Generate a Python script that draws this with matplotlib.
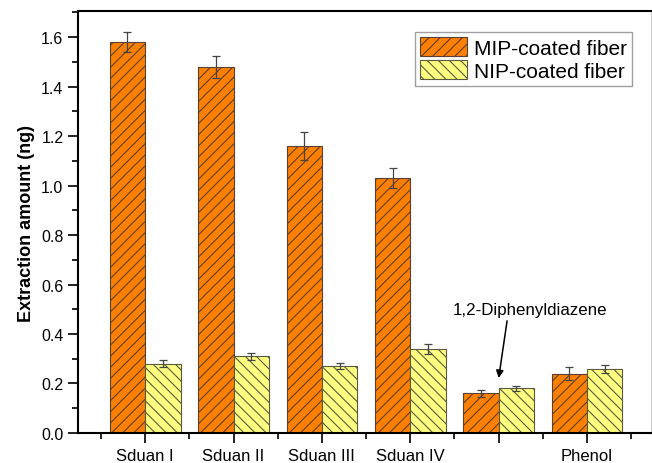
import numpy as np
import matplotlib.pyplot as plt
import matplotlib as mpl
from matplotlib.ticker import MultipleLocator, FixedLocator

mpl.rcParams['font.family'] = ['Liberation Sans', 'DejaVu Sans']
mpl.rcParams['hatch.linewidth'] = 0.8

# Data
categories = ["Sduan I", "Sduan II", "Sduan III", "Sduan IV", "", "Phenol"]
mip_vals = [1.58, 1.48, 1.16, 1.03, 0.16, 0.24]
mip_err = [0.040, 0.045, 0.057, 0.040, 0.015, 0.025]
nip_vals = [0.28, 0.31, 0.27, 0.34, 0.18, 0.26]
nip_err = [0.015, 0.015, 0.012, 0.020, 0.010, 0.016]

x = np.arange(len(categories))
w = 0.4

fig = plt.figure(figsize=(6.52, 4.64), dpi=100)
ax = fig.add_axes([0.1196, 0.0647, 0.8784, 0.9093])

ax.bar(x - w / 2, mip_vals, w, color="#FF8000", edgecolor="#5a4030",
       linewidth=0.8, hatch="///", label="MIP-coated fiber", zorder=2)
ax.bar(x + w / 2, nip_vals, w, color="#FFFF80", edgecolor="#5a5a40",
       linewidth=0.8, hatch="\\\\\\", label="NIP-coated fiber", zorder=2)
ax.errorbar(x - w / 2, mip_vals, yerr=mip_err, fmt="none", ecolor="#444444",
            elinewidth=0.9, capsize=3, capthick=0.9, zorder=3)
ax.errorbar(x + w / 2, nip_vals, yerr=nip_err, fmt="none", ecolor="#444444",
            elinewidth=0.9, capsize=3, capthick=0.9, zorder=3)

ax.set_xlim(-0.76, 5.72)
ax.set_ylim(0, 1.705)
ax.set_xticks(x)
ax.set_xticklabels(categories, fontsize=12)
ax.xaxis.set_minor_locator(FixedLocator(np.append(x - 0.5, x[-1] + 0.5)))
ax.yaxis.set_major_locator(MultipleLocator(0.2))
ax.yaxis.set_minor_locator(MultipleLocator(0.1))
ax.tick_params(axis="both", which="major", direction="out", length=7, width=1.2)
ax.tick_params(axis="y", which="major", labelsize=11.5)
ax.tick_params(axis="both", which="minor", direction="out", length=4, width=1.2)
ax.yaxis.set_major_formatter(mpl.ticker.FormatStrFormatter("%.1f"))

for s in ["left", "bottom", "top"]:
    ax.spines[s].set_linewidth(1.5)
ax.spines["right"].set_color("#cccccc")

ax.set_ylabel("Extraction amount (ng)", fontsize=13, fontweight="bold", labelpad=4)

ax.annotate("", xy=(4.0, 0.222), xytext=(4.095, 0.453),
            arrowprops=dict(arrowstyle="-|>", color="black", lw=1.1,
                            shrinkA=0, shrinkB=0, mutation_scale=11))
ax.text(4.355, 0.497, "1,2-Diphenyldiazene", fontsize=12.2,
        ha="center", va="center")

leg = ax.legend(loc="upper right", bbox_to_anchor=(0.975, 0.96), fontsize=15,
                frameon=True, fancybox=False, edgecolor="#888888",
                handlelength=2.25, handleheight=1.0, borderpad=0.25,
                labelspacing=0.12, handletextpad=0.35, borderaxespad=0.2)
leg.get_frame().set_linewidth(1.0)

fig.savefig("out.png", dpi=100)
